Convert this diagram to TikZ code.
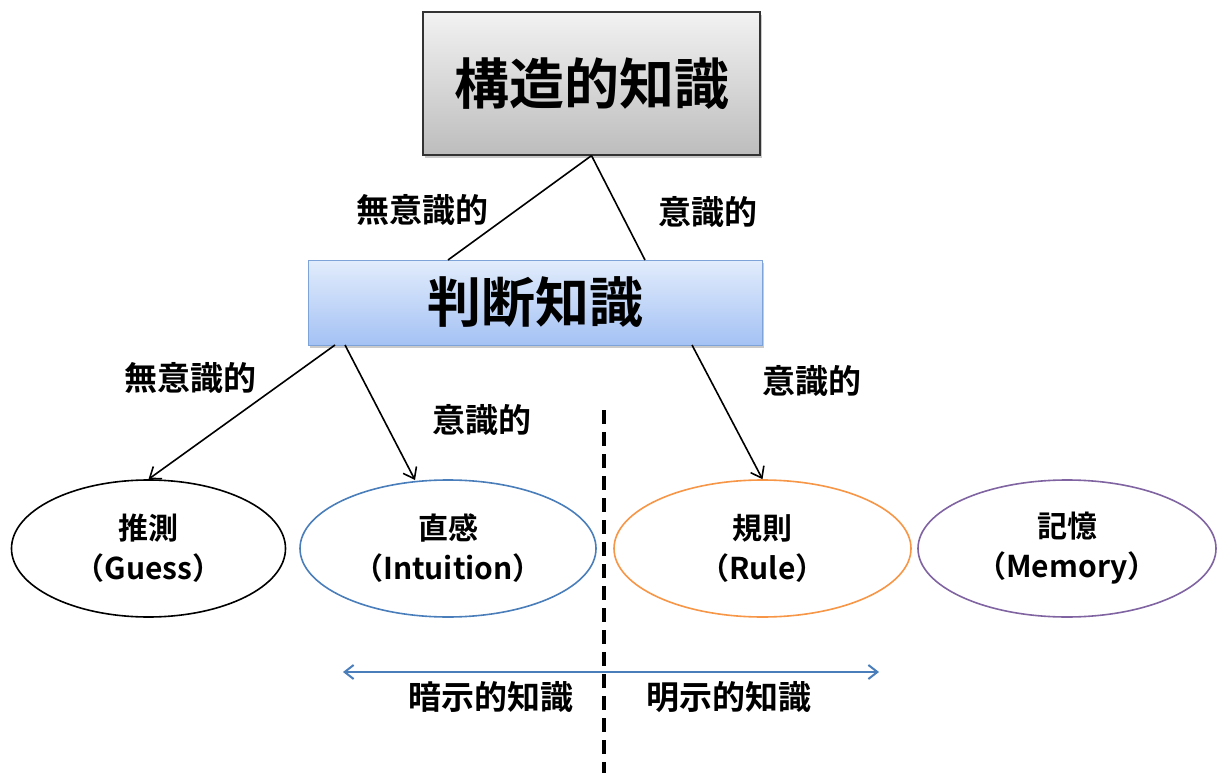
\documentclass[tikz,border=0pt]{standalone}
\usepackage{fontspec}
\setmainfont{Noto Sans CJK JP}[BoldFont={Noto Sans CJK JP Bold}]
\usetikzlibrary{arrows.meta,shadows,shapes.geometric}
\definecolor{topA}{HTML}{F2F2F2}
\definecolor{topB}{HTML}{BDBDBD}
\definecolor{midA}{HTML}{E2ECFC}
\definecolor{midB}{HTML}{A4C2F4}
\definecolor{midD}{HTML}{7EA3D8}
\definecolor{cblue}{HTML}{4A7EBB}
\definecolor{corange}{HTML}{F79646}
\definecolor{cpurple}{HTML}{8064A2}
\tikzset{
  boxshadow/.style={drop shadow={shadow xshift=2pt,shadow yshift=-3pt,opacity=0.35,fill=black!60}},
  ell/.style={ellipse,draw,line width=1.6pt,fill=white,align=center,font=\bfseries\fontsize{30}{40}\selectfont},
  lab/.style={font=\bfseries\fontsize{33}{36}\selectfont},
  conn/.style={line width=1.6pt},
  arr/.style={conn,-{Straight Barb[length=10pt,width=15pt,line width=1.6pt]}}
}
\begin{document}
\begin{tikzpicture}[x=1pt,y=-1pt]
\useasboundingbox (0,0) rectangle (1224,773);
\node[draw=black!80,line width=1.2pt,top color=topA,bottom color=topB,boxshadow,
      minimum width=337pt,minimum height=143pt,font=\bfseries\fontsize{55}{60}\selectfont]
      (top) at (591.5,83.5) {構造的知識};
\node[draw=midD,line width=1pt,top color=midA,bottom color=midB,boxshadow,
      minimum width=454pt,minimum height=85pt,font=\bfseries\fontsize{54}{60}\selectfont]
      (mid) at (535,302.5) {判断知識};
\coordinate (midL1) at (448,260);
\coordinate (midR1) at (645,260);
\draw[conn] (top.south) -- (midL1);
\draw[conn] (top.south) -- (midR1);
\node[lab] (l1) at (422,210) {無意識的};
\node[lab] (l2) at (708,212) {意識的};

\node[ell,draw=black,minimum width=274pt,minimum height=137pt] (guess) at (148.5,548.5) {推測\\（Guess）};
\node[ell,draw=cblue,minimum width=296pt,minimum height=137pt] (intu) at (448,548.5) {直感\\（Intuition）};
\node[ell,draw=corange,minimum width=297pt,minimum height=137pt] (rule) at (762.5,548.5) {規則\\（Rule）};
\node[ell,draw=cpurple,minimum width=298pt,minimum height=137pt] (mem) at (1067,548.5) {記憶\\（Memory）};

\coordinate (mb1) at (335,345);
\coordinate (mb2) at (345,345);
\coordinate (mb3) at (692,345);
\draw[arr] (mb1) -- (guess.north);
\draw[arr] (mb2) -- (415,480);
\draw[arr] (mb3) -- (rule.north);
\node[lab] (l3) at (190,378) {無意識的};
\node[lab] (l4) at (482,420) {意識的};
\node[lab] (l5) at (812,381) {意識的};

\coordinate (dtop) at (604,410);
\coordinate (dbot) at (604,773);
\draw[line width=3.5pt,dash pattern=on 14pt off 8pt] (dtop) -- (dbot);

\coordinate (aL) at (343,672);
\coordinate (aR) at (879,672);
\draw[cblue,line width=2pt,{Straight Barb[length=9pt,width=14pt,line width=2pt]}-{Straight Barb[length=9pt,width=14pt,line width=2pt]}] (aL) -- (aR);
\node[lab] (t1) at (491,697) {暗示的知識};
\node[lab] (t2) at (729,697) {明示的知識};
\end{tikzpicture}
\end{document}
